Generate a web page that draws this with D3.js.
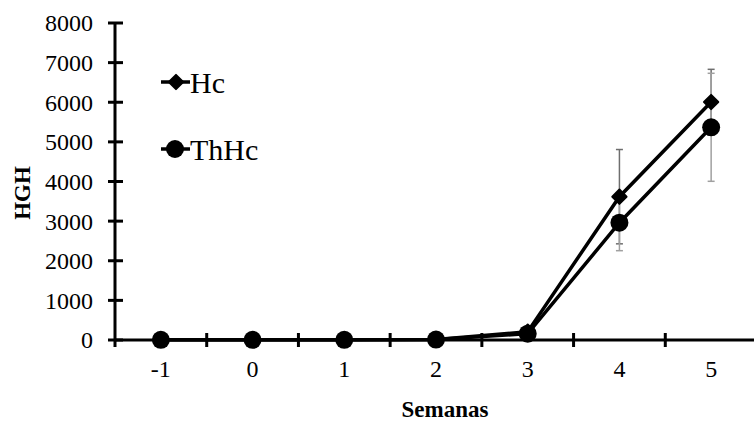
<!DOCTYPE html>
<html>
<head>
<meta charset="utf-8">
<script src="https://cdn.jsdelivr.net/npm/d3@7"></script>
<style>
  body { margin: 0; background: #fff; }
  svg text { font-family: "Liberation Serif", "Times New Roman", serif; fill: #000; }
</style>
</head>
<body>
<div id="chart"></div>
<script>
// data
const weeks = ["-1", "0", "1", "2", "3", "4", "5"];
const hcValues = [5, 5, 5, 10, 210, 3617, 6006];
const hcErrors = [0, 0, 0, 0, 0, 1190, 825];
const thhcValues = [5, 5, 5, 10, 160, 2960, 5368];
const thhcErrors = [0, 0, 0, 0, 0, 706, 1363];
const yTicks = [0, 1000, 2000, 3000, 4000, 5000, 6000, 7000, 8000];

const width = 754, height = 427;
const svg = d3.select("#chart").append("svg")
    .attr("width", width)
    .attr("height", height);

const x = d3.scaleBand().domain(weeks).range([115, 757]);
const y = d3.scaleLinear().domain([0, 8000]).range([340, 23]);

// y axis
svg.append("line")
    .attr("x1", x.range()[0]).attr("x2", x.range()[0])
    .attr("y1", y(8000)).attr("y2", y(0) + 7)
    .attr("stroke", "#000").attr("stroke-width", 3);

svg.selectAll(".ytick").data(yTicks).enter().append("line")
    .attr("x1", 108).attr("x2", 123)
    .attr("y1", d => y(d)).attr("y2", d => y(d))
    .attr("stroke", "#000").attr("stroke-width", 3);

svg.selectAll(".ylab").data(yTicks).enter().append("text")
    .attr("x", 93).attr("y", d => y(d))
    .attr("dy", "0.35em")
    .attr("text-anchor", "end")
    .style("font-size", "24px")
    .text(d => d);

// x axis
svg.append("line")
    .attr("x1", x.range()[0]).attr("x2", width)
    .attr("y1", y(0)).attr("y2", y(0))
    .attr("stroke", "#000").attr("stroke-width", 3);

svg.selectAll(".xtick").data(weeks.slice(1)).enter().append("line")
    .attr("x1", d => x(d)).attr("x2", d => x(d))
    .attr("y1", y(0) - 7).attr("y2", y(0) + 7)
    .attr("stroke", "#000").attr("stroke-width", 3);

svg.selectAll(".xlab").data(weeks).enter().append("text")
    .attr("x", d => x(d) + x.bandwidth() / 2)
    .attr("y", 377)
    .attr("text-anchor", "middle")
    .style("font-size", "24px")
    .text(d => d);

// axis titles
svg.append("text")
    .attr("x", 445)
    .attr("y", 417)
    .attr("text-anchor", "middle")
    .style("font-size", "23px").style("font-weight", "bold")
    .text("Semanas");

svg.append("text")
    .attr("transform", "translate(30,193) rotate(-90)")
    .attr("text-anchor", "middle")
    .style("font-size", "23px").style("font-weight", "bold")
    .text("HGH");

const cx = d => x(d) + x.bandwidth() / 2;

function errorBars(values, errors, color) {
    const data = weeks.map((w, i) => ({ w, v: values[i], e: errors[i] })).filter(d => d.e > 0);
    const g = svg.append("g").attr("stroke", color).attr("stroke-width", 1.5);
    g.selectAll(null).data(data).enter().append("line")
        .attr("x1", d => cx(d.w)).attr("x2", d => cx(d.w))
        .attr("y1", d => y(d.v + d.e)).attr("y2", d => y(d.v - d.e));
    [1, -1].forEach(s => {
        g.selectAll(null).data(data).enter().append("line")
            .attr("x1", d => cx(d.w) - 3.5).attr("x2", d => cx(d.w) + 3.5)
            .attr("y1", d => y(d.v + s * d.e))
            .attr("y2", d => y(d.v + s * d.e));
    });
}

errorBars(hcValues, hcErrors, "#6e6e6e");
errorBars(thhcValues, thhcErrors, "#a0a0a0");

const line = d3.line().x((d, i) => cx(weeks[i])).y(d => y(d));
const diamond = d3.symbol().type(d3.symbolDiamond2).size(130);

function series(values, shape) {
    svg.append("path")
        .datum(values)
        .attr("d", line)
        .attr("fill", "none")
        .attr("stroke", "#000")
        .attr("stroke-width", 3.5);
    if (shape === "diamond") {
        svg.selectAll(null).data(values).enter().append("path")
            .attr("d", diamond)
            .attr("transform", (d, i) => `translate(${cx(weeks[i])},${y(d)})`)
            .attr("fill", "#000")
            .attr("stroke", "#000").attr("stroke-width", 2).attr("stroke-linejoin", "round");
    } else {
        svg.selectAll(null).data(values).enter().append("circle")
            .attr("cx", (d, i) => cx(weeks[i]))
            .attr("cy", d => y(d))
            .attr("r", 9)
            .attr("fill", "#000");
    }
}

series(hcValues, "diamond");
series(thhcValues, "circle");

// legend
const legend = [
    { name: "Hc", shape: "diamond", y: 82 },
    { name: "ThHc", shape: "circle", y: 149 }
];
legend.forEach(d => {
    svg.append("line")
        .attr("x1", 161).attr("x2", 190)
        .attr("y1", d.y).attr("y2", d.y)
        .attr("stroke", "#000").attr("stroke-width", 3.5);
    if (d.shape === "diamond") {
        svg.append("path").attr("d", diamond)
            .attr("transform", `translate(176,${d.y})`)
            .attr("fill", "#000")
            .attr("stroke", "#000").attr("stroke-width", 2).attr("stroke-linejoin", "round");
    } else {
        svg.append("circle").attr("cx", 175).attr("cy", d.y).attr("r", 9).attr("fill", "#000");
    }
    svg.append("text")
        .attr("x", 190).attr("y", d.y)
        .attr("dy", "0.35em")
        .style("font-size", "30px")
        .text(d.name);
});
</script>
</body>
</html>
